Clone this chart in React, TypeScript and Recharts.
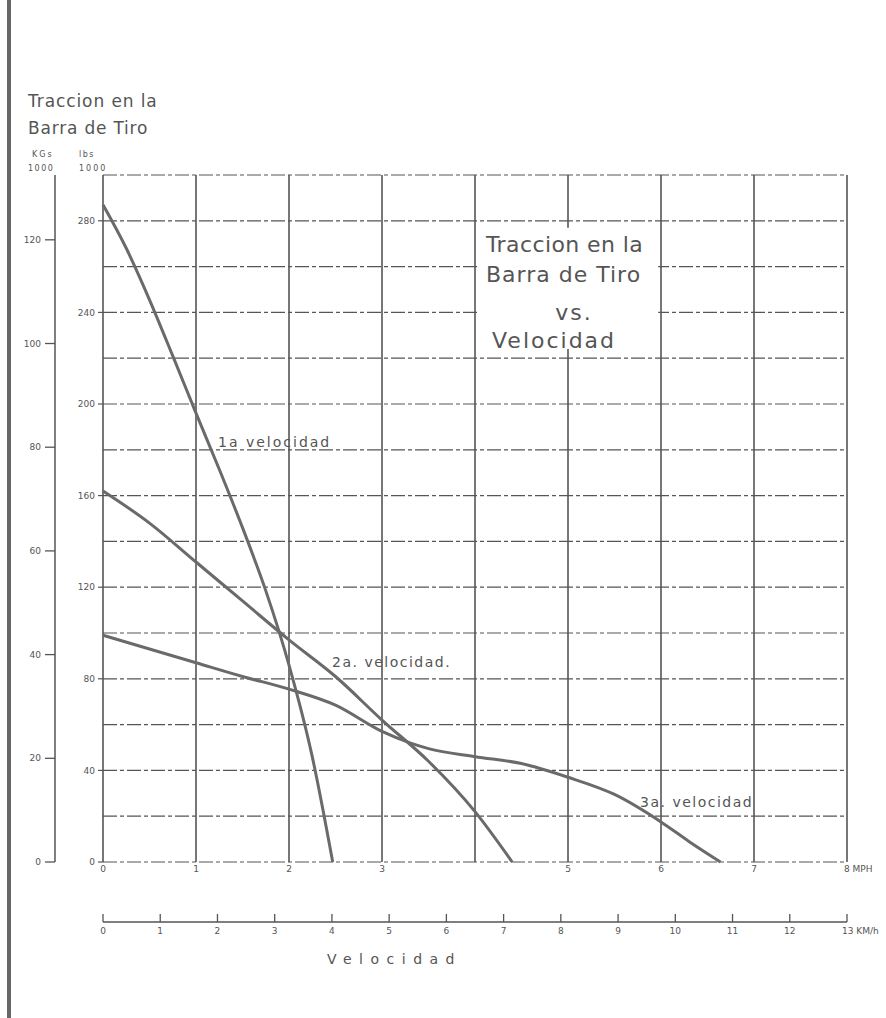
import { LineChart, Line, XAxis, YAxis, CartesianGrid, ReferenceArea } from 'recharts';

// velocidad (MPH) y traccion (lbs x 1000)
const MPH_TICKS = [0, 1, 2, 3, 5, 6, 7, 8];
const MPH_GRID = [0, 1, 2, 3, 4, 5, 6, 7, 8];
const KMH_TICKS = [0, 1, 2, 3, 4, 5, 6, 7, 8, 9, 10, 11, 12, 13];
const LBS_TICKS = [0, 40, 80, 120, 160, 200, 240, 280];
const LBS_GRID = [0, 20, 40, 60, 80, 100, 120, 140, 160, 180, 200, 220, 240, 260, 280, 300];
const KG_TICKS = [0, 20, 40, 60, 80, 100, 120];
const KG_MAX = 132.5; // escala kg dibujada a mano

const speed1 = [0, 0.25, 0.5, 0.75, 1, 1.25, 1.5, 1.75, 2, 2.25, 2.47];
const pull1 = [287, 268, 245.5, 221, 196, 171.5, 146, 118.5, 86, 46, 0];

const speed2 = [0, 0.5, 1, 1.5, 2, 2.5, 3, 3.5, 4, 4.4];
const pull2 = [162, 148, 131, 114, 97, 81, 62, 44, 22, 0];

const speed3 = [0, 0.5, 1, 1.5, 2, 2.5, 3, 3.3, 3.5, 4, 4.5, 5, 5.5, 6, 6.3, 6.64];
const pull3 = [99, 93, 87, 81, 75.5, 68.5, 57, 52, 49.5, 46, 43, 37, 29.5, 17.5, 9, 0];

const toRows = (xs: number[], ys: number[]) => xs.map((x, i) => ({ x, y: ys[i] }));
const gear1 = toRows(speed1, pull1);
const gear2 = toRows(speed2, pull2);
const gear3 = toRows(speed3, pull3);

// recharts apila los ejes del mismo lado por id: "a_" queda junto al grafico
const MPH = 'a_mph';
const KMH = 'b_kmh';
const LBS = 'a_lbs';
const KG = 'b_kg';

const INK = '#555';
const FONT = '"DejaVu Sans", sans-serif';

function MphTick({ x, y, payload }: any) {
  const v = payload.value;
  if (v === 8) {
    return (
      <text x={x - 3} y={y + 10} textAnchor="start" fontSize={9} fill={INK} fontFamily={FONT}>
        8 MPH
      </text>
    );
  }
  return (
    <text x={x} y={y + 10} textAnchor="middle" fontSize={9} fill={INK} fontFamily={FONT}>
      {v}
    </text>
  );
}

function KmhTick({ x, y, payload }: any) {
  const v = payload.value;
  return (
    <g>
      <line x1={x} x2={x} y1={y - 8} y2={y} stroke={INK} strokeWidth={1.3} />
      <text
        x={v === 13 ? x - 5 : x}
        y={y + 12}
        textAnchor={v === 13 ? 'start' : 'middle'}
        fontSize={9}
        fill={INK}
        fontFamily={FONT}
      >
        {v === 13 ? '13 KM/h' : v}
      </text>
    </g>
  );
}

export default function App() {
  const labelStyle = { fill: '#555', fontFamily: FONT };
  return (
    <div style={{ position: 'absolute', left: 0, top: 0, width: 886, height: 1018, background: '#fff' }}>
      <div style={{ position: 'absolute', left: 7, top: 0, width: 4, height: 1018, background: '#666' }} />
      <LineChart width={886} height={1018} margin={{ top: 175, right: 39, bottom: 56, left: 8 }}>
        <CartesianGrid
          xAxisId={MPH}
          yAxisId={LBS}
          horizontal={false}
          verticalValues={MPH_GRID}
          stroke="#4a4a4a"
          strokeWidth={1.5}
        />
        <CartesianGrid
          xAxisId={MPH}
          yAxisId={LBS}
          vertical={false}
          horizontalValues={LBS_GRID}
          stroke="#555"
          strokeWidth={1.2}
          strokeDasharray="14 3 4 3"
        />
        <XAxis
          xAxisId={MPH}
          type="number"
          dataKey="x"
          domain={[0, 8]}
          ticks={MPH_TICKS}
          interval={0}
          height={60}
          axisLine={false}
          tickLine={false}
          tickSize={0}
          tickMargin={0}
          tick={<MphTick />}
        />
        <XAxis
          xAxisId={KMH}
          type="number"
          dataKey="x"
          domain={[0, 13]}
          allowDataOverflow
          ticks={KMH_TICKS}
          interval={0}
          height={40}
          axisLine={{ stroke: INK, strokeWidth: 1.3 }}
          tickLine={false}
          tickSize={0}
          tickMargin={0}
          tick={<KmhTick />}
        />
        <YAxis
          yAxisId={LBS}
          type="number"
          domain={[0, 300]}
          ticks={LBS_TICKS}
          interval={0}
          width={48}
          axisLine={false}
          tickLine={{ stroke: INK, strokeWidth: 1.2 }}
          tickSize={5}
          tickMargin={3}
          tick={{ fontSize: 9, fill: INK, fontFamily: FONT }}
        />
        <YAxis
          yAxisId={KG}
          type="number"
          domain={[0, KG_MAX]}
          allowDataOverflow
          ticks={KG_TICKS}
          interval={0}
          width={47}
          axisLine={{ stroke: INK, strokeWidth: 1.5 }}
          tickLine={{ stroke: INK, strokeWidth: 1.3 }}
          tickSize={10}
          tickMargin={4}
          tick={{ fontSize: 9, fill: INK, fontFamily: FONT }}
        />
        <ReferenceArea
          xAxisId={MPH}
          yAxisId={LBS}
          x1={4.03}
          x2={5.97}
          y1={224}
          y2={277}
          fill="#fff"
          fillOpacity={1}
          stroke="none"
        />
        <Line
          xAxisId={MPH}
          yAxisId={LBS}
          data={gear1}
          dataKey="y"
          type="monotone"
          stroke="#6a6a6a"
          strokeWidth={3}
          dot={false}
          isAnimationActive={false}
        />
        <Line
          xAxisId={MPH}
          yAxisId={LBS}
          data={gear2}
          dataKey="y"
          type="monotone"
          stroke="#6a6a6a"
          strokeWidth={3}
          dot={false}
          isAnimationActive={false}
        />
        <Line
          xAxisId={MPH}
          yAxisId={LBS}
          data={gear3}
          dataKey="y"
          type="monotone"
          stroke="#6a6a6a"
          strokeWidth={3}
          dot={false}
          isAnimationActive={false}
        />
      </LineChart>
      <svg
        width={886}
        height={1018}
        style={{ position: 'absolute', left: 0, top: 0, pointerEvents: 'none' }}
        fontFamily={FONT}
      >
        <text x={28} y={107} fontSize={17} letterSpacing={0.9} {...labelStyle}>Traccion en la</text>
        <text x={28} y={134} fontSize={17} letterSpacing={0.8} {...labelStyle}>Barra de Tiro</text>
        <text x={32} y={157} fontSize={8} letterSpacing={2} {...labelStyle}>KGs</text>
        <text x={28} y={171} fontSize={8} letterSpacing={1.5} {...labelStyle}>1000</text>
        <text x={79} y={157} fontSize={8} letterSpacing={1.5} {...labelStyle}>lbs</text>
        <text x={79} y={171} fontSize={8} letterSpacing={2} {...labelStyle}>1000</text>

        <text x={486} y={252} fontSize={22} letterSpacing={0.4} {...labelStyle}>Traccion en la</text>
        <text x={486} y={282} fontSize={22} letterSpacing={1} {...labelStyle}>Barra de Tiro</text>
        <text x={574} y={320} fontSize={22} letterSpacing={2} textAnchor="middle" {...labelStyle}>vs.</text>
        <text x={492} y={348} fontSize={22} letterSpacing={2} {...labelStyle}>Velocidad</text>

        <text x={218} y={447} fontSize={14} letterSpacing={2} {...labelStyle}>1a velocidad</text>
        <text x={332} y={667} fontSize={14} letterSpacing={1.5} {...labelStyle}>2a. velocidad.</text>
        <text x={640} y={807} fontSize={14} letterSpacing={1.5} {...labelStyle}>3a. velocidad</text>

        <text x={327} y={964} fontSize={14} letterSpacing={7.5} {...labelStyle}>Velocidad</text>
      </svg>
    </div>
  );
}
